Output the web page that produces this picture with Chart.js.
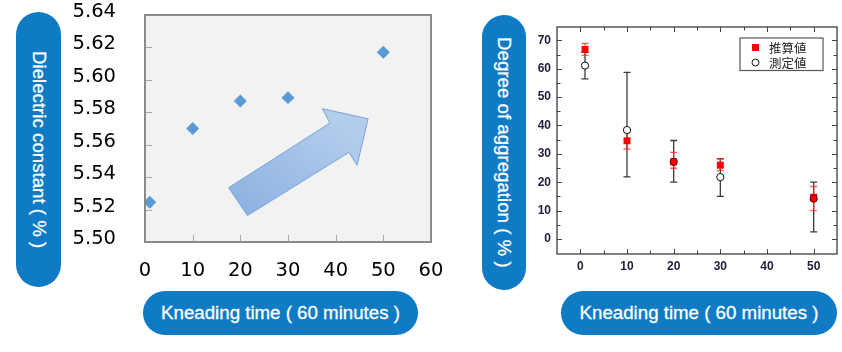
<!DOCTYPE html>
<html>
<head>
<meta charset="utf-8">
<script src="https://cdn.jsdelivr.net/npm/chart.js@4.4.1/dist/chart.umd.min.js"></script>
<style>
  html, body { margin: 0; padding: 0; background: #fff; }
  #page { position: relative; width: 842px; height: 352px; overflow: hidden; }
  canvas { position: absolute; top: 0; }
  .pill {
    position: absolute; background: #0e7bc4; color: #fff;
    font-family: 'Liberation Sans', Arial, sans-serif; font-size: 18.7px;
    -webkit-text-stroke: 0.3px #fff;
    display: flex; align-items: center; justify-content: center; white-space: nowrap;
  }
  .pill.v { writing-mode: vertical-rl; border-radius: 23px; }
  .pill.h { border-radius: 22px; }
</style>
</head>
<body>
<div id="page">
  <canvas id="chart-dielectric" width="450" height="290" style="left:0"></canvas>
  <canvas id="chart-aggregation" width="312" height="290" style="left:530px"></canvas>
  <div class="pill v" style="left:16px;top:12px;width:45px;height:275px">Dielectric constant ( % )</div>
  <div class="pill h" style="left:143px;top:291px;width:275px;height:44px">Kneading time ( 60 minutes )</div>
  <div class="pill v" style="left:482px;top:15px;width:44px;height:275px">Degree of aggregation ( % )</div>
  <div class="pill h" style="left:561px;top:291px;width:276px;height:44px">Kneading time ( 60 minutes )</div>
</div>
<script>
// --- Datos: constante dieléctrica ---
const kneadTimes = [1, 10, 20, 30, 50];
const dielectric = [5.5245, 5.570, 5.587, 5.589, 5.617];
const xTicksL = [0, 10, 20, 30, 40, 50, 60];
const yTicksL = [5.50, 5.52, 5.54, 5.56, 5.58, 5.60, 5.62, 5.64];

// flecha decorativa (en unidades de datos)
const arrowPath = [[17.55, 5.5335], [38.8, 5.5734], [37.2, 5.5822], [46.8, 5.5760],
                   [44.5, 5.5473], [42.8, 5.5553], [21.5, 5.5163]];

// --- Datos: grado de agregación ---
const aggTimes = [1, 10, 20, 30, 50];
const estimated = [66.8, 34.6, 27.2, 26.0, 14.7];   // 推算値
const estLo = [64.7, 31.7, 24.9, 24.1, 10.0];
const estHi = [68.9, 37.5, 30.5, 28.2, 18.5];
const measured = [61.1, 38.4, 27.2, 21.8, 14.2];    // 測定値
const measLo = [56.4, 21.9, 20.0, 15.0, 2.5];
const measHi = [65.8, 58.7, 34.7, 28.3, 20.0];
const xTicksR = [0, 10, 20, 30, 40, 50];
const yTicksR = [0, 10, 20, 30, 40, 50, 60, 70];

Chart.defaults.animation = false;
Chart.defaults.font.family = "'Liberation Sans', Arial, sans-serif";

const setTicks = (list) => (scale) => { scale.ticks = list.map(v => ({ value: v })); };
// tamaño fijo del eje sin relleno extra por las etiquetas
const fixSize = (prop, size) => (s) => {
    s[prop] = size;
    s.paddingTop = s.paddingBottom = s.paddingLeft = s.paddingRight = 0;
};

// Fondo, marcas internas, flecha y borde del gráfico izquierdo
const leftFrame = {
    id: 'leftFrame',
    beforeDraw(chart) {
        const { ctx, chartArea: a } = chart;
        ctx.save();
        ctx.fillStyle = '#f2f2f2';
        ctx.fillRect(a.left, a.top, a.width, a.height);
        ctx.restore();
    },
    beforeDatasetsDraw(chart) {
        const { ctx, chartArea: a, scales: { x, y } } = chart;
        ctx.save();
        ctx.lineWidth = 1;
        ctx.strokeStyle = '#a8a8a8';
        yTicksL.slice(1, -1).forEach(v => {
            const py = Math.round(y.getPixelForValue(v)) + 0.5;
            ctx.beginPath(); ctx.moveTo(a.left, py); ctx.lineTo(a.left + 7, py); ctx.stroke();
        });
        xTicksL.slice(1, -1).forEach(v => {
            const px = Math.round(x.getPixelForValue(v)) + 0.5;
            ctx.beginPath(); ctx.moveTo(px, a.bottom); ctx.lineTo(px, a.bottom - 7); ctx.stroke();
        });

        // flecha
        const pts = arrowPath.map(([vx, vy]) => [x.getPixelForValue(vx), y.getPixelForValue(vy)]);
        const g = ctx.createLinearGradient(pts[2][0], pts[2][1], pts[6][0], pts[6][1]);
        g.addColorStop(0, '#b4cdec');
        g.addColorStop(1, '#8db2e1');
        ctx.beginPath();
        pts.forEach(([px, py], i) => i ? ctx.lineTo(px, py) : ctx.moveTo(px, py));
        ctx.closePath();
        ctx.fillStyle = g;
        ctx.fill();
        ctx.strokeStyle = '#78a4dc';
        ctx.lineWidth = 1;
        ctx.stroke();
        ctx.restore();
    },
    afterDraw(chart) {
        const { ctx, chartArea: a } = chart;
        ctx.save();
        ctx.strokeStyle = '#8a8a8a';
        ctx.lineWidth = 2;
        ctx.strokeRect(a.left, a.top, a.width, a.height);
        ctx.restore();
    }
};

new Chart(document.getElementById('chart-dielectric'), {
    type: 'scatter',
    data: {
        datasets: [{
            label: 'Dielectric constant',
            data: kneadTimes.map((t, i) => ({ x: t, y: dielectric[i] })),
            pointStyle: 'rectRot',
            pointRadius: 6.5,
            backgroundColor: '#5b9bd5',
            borderColor: '#5b9bd5',
            borderWidth: 0
        }]
    },
    options: {
        responsive: false,
        layout: { padding: { top: 15, right: 19, left: 0, bottom: 0 } },
        plugins: { legend: { display: false }, tooltip: { enabled: false } },
        scales: {
            x: {
                type: 'linear', min: 0, max: 60,
                afterBuildTicks: setTicks(xTicksL),
                afterFit: fixSize('height', 48),
                grid: { display: false, drawTicks: false },
                border: { display: false },
                ticks: { padding: 17, color: '#000', font: { family: "'DejaVu Sans'", size: 19.5 } }
            },
            y: {
                type: 'linear', min: 5.50, max: 5.64,
                afterBuildTicks: setTicks(yTicksL),
                afterFit: fixSize('width', 145),
                grid: { display: false, drawTicks: false },
                border: { display: false },
                ticks: {
                    padding: 29, labelOffset: -3, color: '#000',
                    font: { family: "'DejaVu Sans'", size: 19.5 },
                    callback: (v) => Number(v).toFixed(2)
                }
            }
        }
    },
    plugins: [leftFrame]
});

// Barras de error, marcas internas, borde y leyenda del gráfico derecho
const drawBars = (ctx, x, y, lo, hi, color, width, cap) => {
    ctx.strokeStyle = color;
    ctx.lineWidth = width;
    aggTimes.forEach((t, i) => {
        const px = x.getPixelForValue(t);
        const top = y.getPixelForValue(hi[i]);
        const bot = y.getPixelForValue(lo[i]);
        ctx.beginPath();
        ctx.moveTo(px, top); ctx.lineTo(px, bot);
        ctx.moveTo(px - cap, top); ctx.lineTo(px + cap, top);
        ctx.moveTo(px - cap, bot); ctx.lineTo(px + cap, bot);
        ctx.stroke();
    });
};

const rightFrame = {
    id: 'rightFrame',
    beforeDatasetsDraw(chart) {
        const { ctx, scales: { x, y } } = chart;
        ctx.save();
        drawBars(ctx, x, y, measLo, measHi, '#3a3a3a', 1.3, 3.5);
        drawBars(ctx, x, y, estLo, estHi, 'rgba(255,40,40,0.75)', 1.4, 3.5);
        ctx.restore();
    },
    afterDraw(chart) {
        const { ctx, chartArea: a, scales: { x, y } } = chart;
        ctx.save();
        ctx.strokeStyle = '#444';
        ctx.lineWidth = 1;
        const withMinor = (list) => {
            const step = list[1] - list[0];
            const out = [];
            list.forEach(v => { out.push([v, 5]); out.push([v + step / 2, 3.5]); });
            out.unshift([list[0] - step / 2, 3.5]);
            return out;
        };
        withMinor(xTicksR).forEach(([v, len]) => {
            const px = Math.round(x.getPixelForValue(v)) + 0.5;
            if (px <= a.left + 1 || px >= a.right - 1) return;
            ctx.beginPath();
            ctx.moveTo(px, a.bottom); ctx.lineTo(px, a.bottom - len);
            ctx.moveTo(px, a.top); ctx.lineTo(px, a.top + len);
            ctx.stroke();
        });
        withMinor(yTicksR).forEach(([v, len]) => {
            const py = Math.round(y.getPixelForValue(v)) + 0.5;
            if (py <= a.top + 1 || py >= a.bottom - 1) return;
            ctx.beginPath();
            ctx.moveTo(a.left, py); ctx.lineTo(a.left + len, py);
            ctx.moveTo(a.right, py); ctx.lineTo(a.right - len, py);
            ctx.stroke();
        });
        ctx.lineWidth = 1.3;
        ctx.strokeStyle = '#3c3c3c';
        ctx.strokeRect(a.left, a.top, a.width, a.height);

        // leyenda con recuadro
        const bx = a.right - 14 - 83, by = a.top + 11;
        ctx.fillStyle = '#fff';
        ctx.fillRect(bx, by, 83, 32.5);
        ctx.strokeStyle = '#555';
        ctx.lineWidth = 1.2;
        ctx.strokeRect(bx, by, 83, 32.5);
        ctx.fillStyle = '#ff0000';
        ctx.fillRect(bx + 15.5 - 3.5, by + 9.5 - 3.5, 7, 7);
        ctx.beginPath();
        ctx.arc(bx + 15.5, by + 24.5, 3.5, 0, Math.PI * 2);
        ctx.fillStyle = '#fff';
        ctx.fill();
        ctx.strokeStyle = '#111';
        ctx.lineWidth = 1;
        ctx.stroke();
        ctx.fillStyle = '#222';
        ctx.font = "12.5px 'Noto Sans CJK JP'";
        ctx.textBaseline = 'middle';
        chart.data.datasets.forEach((ds, i) => ctx.fillText(ds.label, bx + 29, by + 10 + i * 15));
        ctx.restore();
    }
};

new Chart(document.getElementById('chart-aggregation'), {
    type: 'scatter',
    data: {
        datasets: [{
            label: '推算値',
            order: 1,
            data: aggTimes.map((t, i) => ({ x: t, y: estimated[i] })),
            pointStyle: 'rect',
            pointRadius: 4.9,
            backgroundColor: '#ff0000',
            borderWidth: 0
        }, {
            label: '測定値',
            order: 0,
            data: aggTimes.map((t, i) => ({ x: t, y: measured[i] })),
            pointStyle: 'circle',
            pointRadius: 3.6,
            backgroundColor: ['#ffffff', '#ffffff', '#ff0000', '#ffffff', '#ff0000'],
            borderColor: ['#111', '#111', '#5a0000', '#111', '#5a0000'],
            borderWidth: 1
        }]
    },
    options: {
        responsive: false,
        layout: { padding: { top: 27, right: 4, left: 0, bottom: 0 } },
        plugins: { legend: { display: false }, tooltip: { enabled: false } },
        scales: {
            x: {
                type: 'linear', min: -5, max: 55,
                afterBuildTicks: setTicks(xTicksR),
                afterFit: fixSize('height', 36),
                grid: { display: false, drawTicks: false },
                border: { display: false },
                ticks: { padding: 5, color: '#1e1e3c', font: { size: 12, weight: 'bold' } }
            },
            y: {
                type: 'linear', min: -5.3, max: 74.7,
                afterBuildTicks: setTicks(yTicksR),
                afterFit: fixSize('width', 27),
                grid: { display: false, drawTicks: false },
                border: { display: false },
                ticks: { padding: 6, color: '#1e1e3c', font: { size: 12, weight: 'bold' } }
            }
        }
    },
    plugins: [rightFrame]
});
</script>
</body>
</html>
